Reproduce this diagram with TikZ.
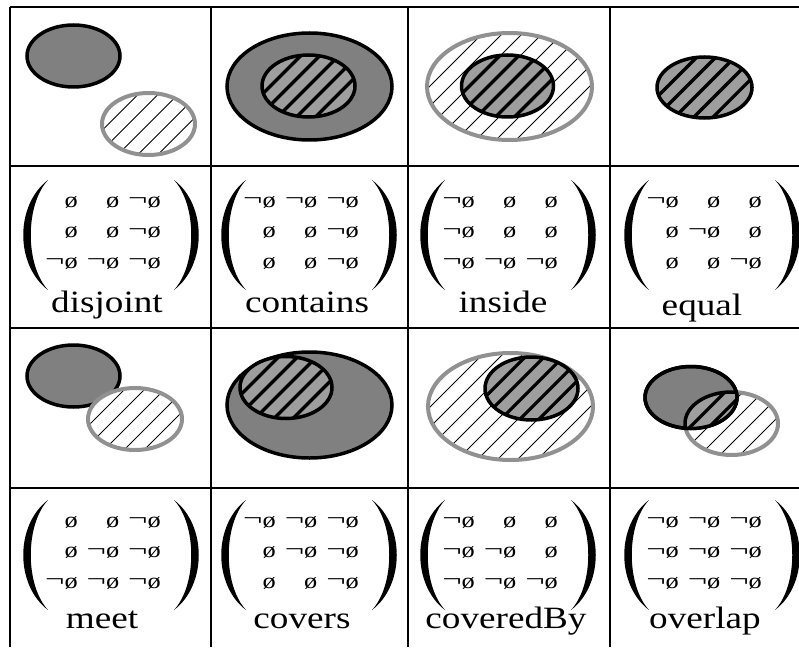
\documentclass[tikz,border=0pt]{standalone}
\usepackage{fontspec}
\setmainfont{Liberation Serif}[FakeStretch=1.2]
\definecolor{regA}{RGB}{128,128,128}
\definecolor{regAB}{RGB}{158,158,158}
\definecolor{rimB}{RGB}{145,145,145}
\usetikzlibrary{calc}
\tikzset{
  gridline/.style={line width=1.6pt, black},
  areaA/.style={fill=regA, draw=black, line width=3.5pt},
  ringB/.style={draw=rimB, line width=4pt},
  hatchline/.style={line width=1pt, black},
  darkline/.style={line width=3.2pt, black},
  parenfill/.style={fill=black},
  relname/.style={font=\fontsize{31}{31}\selectfont, anchor=base, inner sep=0pt},
  relentry/.style={font=\fontsize{22}{22}\selectfont, anchor=base east, inner sep=0pt},
}
\newcommand{\eset}{ø}
\newcommand{\nset}{\raisebox{1.5pt}{\scalebox{1.3}[1]{¬}}ø}
% light hatched region (B)
\newcommand{\areaB}[4]{%
  \fill[white] (#1,#2) ellipse [x radius=#3, y radius=#4];
  \begin{scope}
    \clip (#1,#2) ellipse [x radius=#3, y radius=#4];
    \foreach \k in {-7,...,7}
      \draw[hatchline] (#1+20*\k-110,#2+110) -- ++(220,-220);
  \end{scope}
  \draw[ringB] (#1,#2) ellipse [x radius=#3, y radius=#4];}
% dark hatched region (A and B)
\newcommand{\areaAB}[4]{%
  \fill[regAB] (#1,#2) ellipse [x radius=#3, y radius=#4];
  \begin{scope}
    \clip (#1,#2) ellipse [x radius=#3, y radius=#4];
    \foreach \k in {-6,...,6}
      \draw[darkline] (#1+19*\k-70,#2+70) -- ++(140,-140);
  \end{scope}
  \draw[line width=3.5pt] (#1,#2) ellipse [x radius=#3, y radius=#4];}
% 3x3 matrix in parentheses: name, left tip x, top y, rows (1 = not empty)
\newcommand{\relmat}[4]{%
  \fill[parenfill, shift={(#2,#3)}] (0,0) .. controls (-33,25) and (-33,85) .. (0,110)
    .. controls (-23,85) and (-23,25) .. (0,0) -- cycle;
  \fill[parenfill, shift={(#2+126,#3)}, xscale=-1] (0,0) .. controls (-33,25) and (-33,85) .. (0,110)
    .. controls (-23,85) and (-23,25) .. (0,0) -- cycle;
  \foreach \a/\b/\c [count=\r] in {#4}
    \foreach \v [count=\k] in {\a,\b,\c}
      \node[relentry] (#1-\r-\k) at (#2-11.5+41.5*\k, #3-3.5+30.5*\r)
        {\ifnum\v=1 \nset\else\eset\fi};}

\begin{document}
\begin{tikzpicture}[x=1pt, y=-1pt]
  \useasboundingbox (0,0) rectangle (799,647);
  % Regions, first row
  \draw[areaA] (73.5,56) ellipse [x radius=46.5, y radius=31];
  \areaB{148.5}{124}{46.5}{31}
  \draw[areaA] (309.5,86.5) ellipse [x radius=82.5, y radius=53.5];
  \areaAB{308.5}{86}{46.5}{31}
  \areaB{509.5}{86.5}{82.5}{53.5}
  \areaAB{507.5}{86}{46}{31}
  \areaAB{704.5}{87.5}{47.5}{30.5}
  % Regions, second row
  \draw[areaA] (73.5,376) ellipse [x radius=46.5, y radius=31];
  \areaB{135}{419}{47}{31}
  \draw[areaA] (309.5,405) ellipse [x radius=82.5, y radius=53];
  \areaAB{286}{387.5}{46}{31}
  \areaB{510.5}{406.5}{82.5}{53.5}
  \areaAB{531.5}{388.5}{46.5}{31.5}
  \areaB{731.5}{423.5}{46.5}{31.5}
  \draw[areaA] (691,397.5) ellipse [x radius=46, y radius=31];
  \begin{scope}
    \clip (691,397.5) ellipse [x radius=46, y radius=31];
    \areaAB{731.5}{423.5}{46.5}{31.5}
  \end{scope}
  \draw[line width=3.5pt] (691,397.5) ellipse [x radius=46, y radius=31];
  % Matrices
  \relmat{dj}{48}{180}{0/0/1,0/0/1,1/1/1}
  \relmat{ct}{246}{180}{1/1/1,0/0/1,0/0/1}
  \relmat{in}{445}{180}{1/0/0,1/0/0,1/1/1}
  \relmat{eq}{649}{180}{1/0/0,0/1/0,0/0/1}
  \relmat{mt}{48}{500}{0/0/1,0/1/1,1/1/1}
  \relmat{cv}{246}{500}{1/1/1,0/1/1,0/0/1}
  \relmat{cb}{445}{500}{1/0/0,1/1/0,1/1/1}
  \relmat{ov}{649}{500}{1/1/1,1/1/1,1/1/1}
  % Names
  \node[relname] (disjoint) at (107,312) {disjoint};
  \node[relname] (contains) at (307,312) {contains};
  \node[relname] (inside) at (503,312) {inside};
  \node[relname] (equal) at (702,315) {equal};
  \node[relname] (meet) at (102,628) {meet};
  \node[relname] (covers) at (302,628) {covers};
  \node[relname] (coveredBy) at (506,628) {coveredBy};
  \node[relname] (overlap) at (705,628) {overlap};
  % Table
  \foreach \x in {10,211,408,610} \draw[gridline] (\x,7) -- (\x,647);
  \foreach \y in {7,166,328,488} \draw[gridline] (10,\y) -- (799,\y);
\end{tikzpicture}
\end{document}
